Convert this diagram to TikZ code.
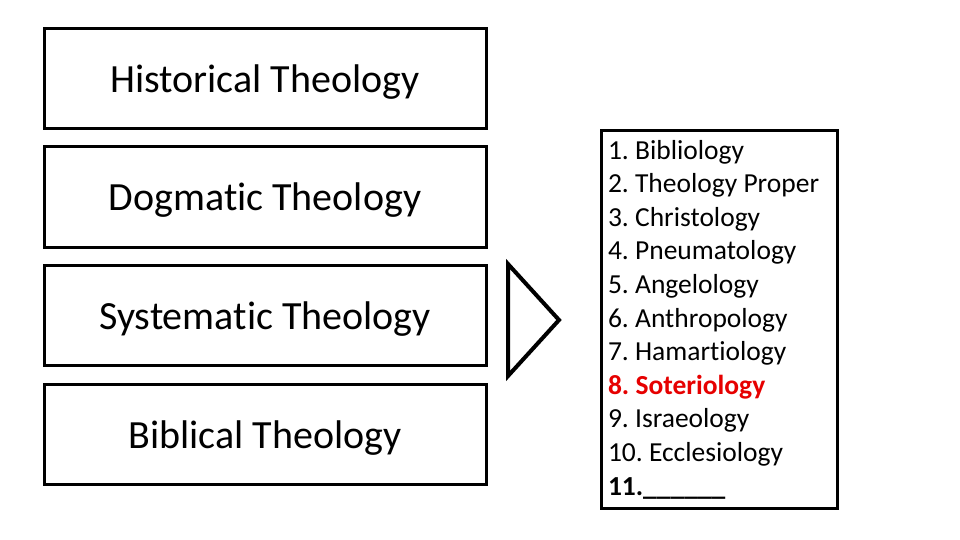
\documentclass[tikz,border=0pt]{standalone}
\usepackage{fontspec}
\setmainfont{Carlito}[Ligatures=NoCommon]
\usetikzlibrary{positioning}
\definecolor{hilite}{RGB}{230,0,0}
\frenchspacing

\begin{document}
\begin{tikzpicture}[
    x=1pt,
    y=-1pt,
    every node/.style={font=\fontsize{40}{46}\selectfont},
    topic/.style={draw, line width=3pt, minimum width=442pt, minimum height=100pt, inner sep=0pt, text depth=0pt},
    branches/.style={draw, line width=3pt, align=flush left, text width=222pt, minimum width=234pt,
        minimum height=378pt, inner sep=7pt, font=\fontsize{27.5}{33.6}\selectfont}
]
    \useasboundingbox (0,0) rectangle (960,540);

    \node[topic] (hist) at (265,79) {Historical Theology};
    \node[topic] (dogm) at (265,197) {Dogmatic Theology};
    \node[topic] (syst) at (265,315.5) {Systematic Theology};
    \node[topic] (bibl) at (265,434.5) {Biblical Theology};

    % pointer towards the list
    \coordinate (ptop) at (508,264);
    \coordinate (pbot) at (508,376);
    \coordinate (ptip) at (559,320);
    \draw[line width=4pt, line join=miter] (ptop) -- (ptip) -- (pbot) -- cycle;

    \node[branches] (loci) at (719,319.5) {%
        1. Bibliology\\
        2. Theology Proper\\
        3. Christology\\
        4. Pneumatology\\
        5. Angelology\\
        6. Anthropology\\
        7. Hamartiology\\
        \textcolor{hilite}{\textbf{8. Soteriology}}\\
        9. Israeology\\
        10. Ecclesiology\\
        \textbf{11.\_\_\_\_\_\_}};
\end{tikzpicture}
\end{document}
